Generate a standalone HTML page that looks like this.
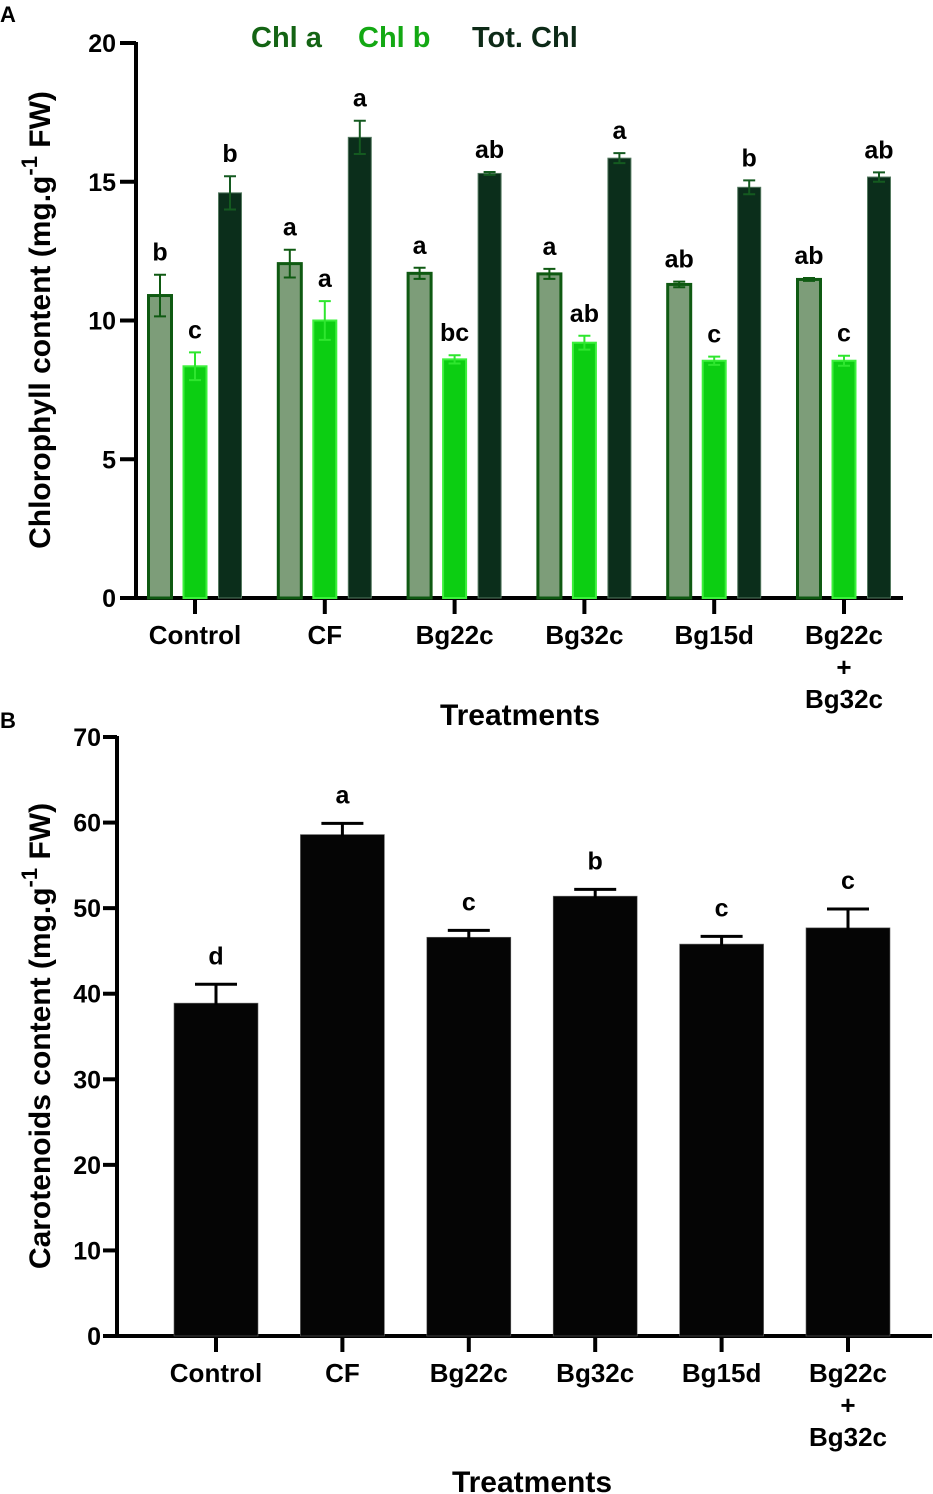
<!DOCTYPE html>
<html><head><meta charset="utf-8">
<style>
body{margin:0;background:#fff;}
svg{display:block;font-family:"Liberation Sans",Arial,sans-serif;font-weight:bold;}
</style></head>
<body>
<svg id="chart" width="933" height="1494" viewBox="0 0 933 1494" xmlns="http://www.w3.org/2000/svg">
<text x="0" y="22" font-size="22">A</text>
<text x="0" y="728" font-size="22">B</text>
<g font-size="29">
<text x="251" y="47" fill="#146414">Chl a</text>
<text x="358" y="47" fill="#13a813">Chl b</text>
<text x="472" y="47" fill="#0d2a17">Tot. Chl</text>
</g>
<text transform="translate(50,320) rotate(-90)" text-anchor="middle" font-size="30">Chlorophyll content (mg.g<tspan dy="-13" font-size="22">-1</tspan><tspan dy="13"> FW)</tspan></text>
<text x="520" y="725" text-anchor="middle" font-size="30">Treatments</text>
<text transform="translate(50,1036) rotate(-90)" text-anchor="middle" font-size="30">Carotenoids content  (mg.g<tspan dy="-13" font-size="22">-1</tspan><tspan dy="13"> FW)</tspan></text>
<text x="532" y="1492" text-anchor="middle" font-size="30">Treatments</text>
<g id="ga"></g><g id="gb"></g>
</svg>
<script>
const categories = ["Control","CF","Bg22c","Bg32c","Bg15d","Bg22c+Bg32c"];
const chlA = [10.9, 12.05, 11.7, 11.68, 11.3, 11.48];
const chlAErr = [0.75, 0.5, 0.2, 0.18, 0.1, 0.05];
const chlB = [8.35, 10.0, 8.6, 9.2, 8.55, 8.55];
const chlBErr = [0.5, 0.7, 0.15, 0.25, 0.15, 0.18];
const totChl = [14.6, 16.6, 15.3, 15.85, 14.8, 15.17];
const totChlErr = [0.6, 0.6, 0.05, 0.18, 0.25, 0.17];
const lettersA = ["b","a","a","a","ab","ab"];
const lettersB = ["c","a","bc","ab","c","c"];
const lettersT = ["b","a","ab","a","b","ab"];
const ticksA = [0,5,10,15,20];
const carot = [38.9, 58.6, 46.6, 51.4, 45.8, 47.7];
const carotErr = [2.2, 1.3, 0.8, 0.8, 0.9, 2.2];
const lettersC = ["d","a","c","b","c","c"];
const ticksB = [0,10,20,30,40,50,60,70];

const NS="http://www.w3.org/2000/svg";
function mk(p,tag,attrs,txt){const e=document.createElementNS(NS,tag);for(const k in attrs)e.setAttribute(k,attrs[k]);if(txt!==undefined)e.textContent=txt;p.appendChild(e);return e;}

// Panel A
const ga=document.getElementById('ga');
const yA=v=>598-v*27.75;
const xA=i=>195+i*129.8;
mk(ga,'line',{x1:136,y1:42,x2:136,y2:600,stroke:'#000','stroke-width':4});
mk(ga,'line',{x1:134,y1:598,x2:903,y2:598,stroke:'#000','stroke-width':4});
ticksA.forEach(t=>{
  const l=mk(ga,'line',{x1:120,y1:yA(t),x2:136,y2:yA(t),stroke:'#000','stroke-width':4});
  
  
  const tx=mk(ga,'text',{x:116,y:yA(t)+9,'text-anchor':'end','font-size':25},String(t));
  
  
});
const seriesA=[
 {v:chlA,e:chlAErr,L:lettersA,off:-35,fill:'#7d9d79',stroke:'#0f5a12',sw:3,ec:'#0f5a12',name:'bar-chl-a'},
 {v:chlB,e:chlBErr,L:lettersB,off:0,fill:'#0cce12',stroke:'#3cf03c',sw:2,ec:'#2ee62e',name:'bar-chl-b'},
 {v:totChl,e:totChlErr,L:lettersT,off:35,fill:'#0b2e1b',stroke:'#557a60',sw:1,ec:'#145a20',name:'bar-tot-chl'}];
categories.forEach((c,i)=>{
  const cx=xA(i);
  const tk=mk(ga,'line',{x1:cx,y1:598,x2:cx,y2:614,stroke:'#000','stroke-width':4});
  
  
  const parts=c==="Bg22c+Bg32c"?["Bg22c","+","Bg32c"]:[c];
  parts.forEach((p,k)=>{
    const t=mk(ga,'text',{x:cx,y:644+k*32,'text-anchor':'middle','font-size':26},p);
    
    
  });
  seriesA.forEach(s=>{
    const bx=cx+s.off, w=23, top=yA(s.v[i]);
    const r=mk(ga,'rect',{x:bx-w/2,y:top,width:w,height:598-top,fill:s.fill,stroke:s.stroke,'stroke-width':s.sw});
    
    
    const et=yA(s.v[i]+s.e[i]), eb=yA(s.v[i]-s.e[i]);
    const eg=mk(ga,'path',{d:`M${bx},${et}V${eb}M${bx-6},${et}H${bx+6}M${bx-6},${eb}H${bx+6}`,stroke:s.ec,'stroke-width':2,fill:'none'});
    
    
    const lt=mk(ga,'text',{x:bx,y:et-14,'text-anchor':'middle','font-size':25},s.L[i]);
    
    
  });
});

// Panel B
const gb=document.getElementById('gb');
const yB=v=>1336-v*8.557;
const xB=i=>216+i*126.4;
mk(gb,'line',{x1:117,y1:736,x2:117,y2:1338,stroke:'#000','stroke-width':4});
mk(gb,'line',{x1:115,y1:1336,x2:932,y2:1336,stroke:'#000','stroke-width':4});
ticksB.forEach(t=>{
  const l=mk(gb,'line',{x1:103,y1:yB(t),x2:117,y2:yB(t),stroke:'#000','stroke-width':4});
  
  
  const tx=mk(gb,'text',{x:101,y:yB(t)+9,'text-anchor':'end','font-size':25},String(t));
  
  
});
categories.forEach((c,i)=>{
  const cx=xB(i);
  const tk=mk(gb,'line',{x1:cx,y1:1336,x2:cx,y2:1352,stroke:'#000','stroke-width':4});
  
  
  const parts=c==="Bg22c+Bg32c"?["Bg22c","+","Bg32c"]:[c];
  parts.forEach((p,k)=>{
    const t=mk(gb,'text',{x:cx,y:1382+k*32,'text-anchor':'middle','font-size':26},p);
    
    
  });
  const top=yB(carot[i]);
  const r=mk(gb,'rect',{x:cx-42,y:top,width:84,height:1336-top,fill:'#050505',stroke:'#666','stroke-width':0.6});
  
  
  const et=yB(carot[i]+carotErr[i]);
  const eg=mk(gb,'path',{d:`M${cx},${et}V${top+2}M${cx-21},${et}H${cx+21}`,stroke:'#000','stroke-width':3,fill:'none'});
  
  
  const lt=mk(gb,'text',{x:cx,y:et-20,'text-anchor':'middle','font-size':25},lettersC[i]);
  
  
});
</script>
</body></html>
